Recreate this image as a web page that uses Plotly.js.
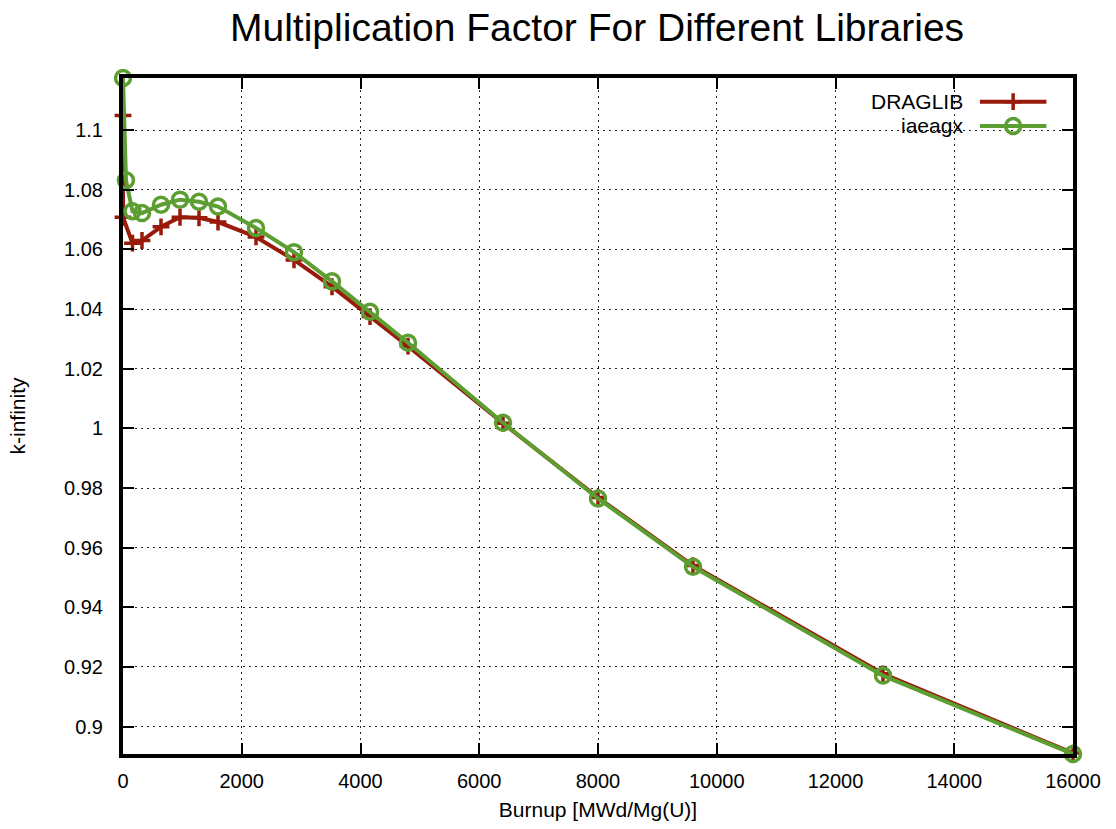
<!DOCTYPE html>
<html>
<head>
<meta charset="utf-8">
<script src="https://cdn.plot.ly/plotly-3.0.1.min.js"></script>
<style>
  html, body { margin: 0; padding: 0; background: #fff; }
  #chart { width: 1116px; height: 829px; }
</style>
</head>
<body>
<div id="chart"></div>
<script>
// Burnup steps [MWd/Mg(U)] and k-infinity for each cross-section library
const burnupDraglib = [0, 0, 160, 320, 640, 960, 1280, 1600, 2240, 2880, 3520, 4160, 4800, 6400, 8000, 9600, 12800, 16000];
const kinfDraglib   = [1.1049, 1.0708, 1.0621, 1.0630, 1.0676, 1.0708, 1.0706, 1.0692, 1.0642, 1.0565, 1.0475, 1.0375, 1.0276, 1.0017, 0.9768, 0.9540, 0.9177, 0.8911];

const burnupIaeagx  = [0, 50, 160, 320, 640, 960, 1280, 1600, 2240, 2880, 3520, 4160, 4800, 6400, 8000, 9600, 12800, 16000];
const kinfIaeagx    = [1.1175, 1.0832, 1.0728, 1.0722, 1.0750, 1.0767, 1.0760, 1.0744, 1.0672, 1.0591, 1.0493, 1.0391, 1.0287, 1.0019, 0.9765, 0.9536, 0.9171, 0.8908];

const seriesNames = ['DRAGLIB', 'iaeagx'];
const seriesColors = ['#991a0a', '#5c9e31'];

const xTickVals = [0, 2000, 4000, 6000, 8000, 10000, 12000, 14000, 16000];
const xTickText = ['0', '2000', '4000', '6000', '8000', '10000', '12000', '14000', '16000'];
const yTickVals = [0.9, 0.92, 0.94, 0.96, 0.98, 1.0, 1.02, 1.04, 1.06, 1.08, 1.1];
const yTickText = ['0.9', '0.92', '0.94', '0.96', '0.98', '1', '1.02', '1.04', '1.06', '1.08', '1.1'];

// Key sample positions (fractions of the plot box) for the legend drawn at top right
const keyLineX = [0.902, 0.972];
const keyRowY = [0.965, 0.929];

const FONT = 'Liberation Sans, Arial, Helvetica, sans-serif';

const markerStyles = [
  { symbol: 'cross-thin-open', size: 12, color: seriesColors[0], line: { color: seriesColors[0], width: 3.5 } },
  { symbol: 'circle-open', size: 15, color: seriesColors[1], line: { color: seriesColors[1], width: 3.5 } }
];

const traces = [
  {
    x: burnupDraglib, y: kinfDraglib, type: 'scatter', mode: 'lines+markers',
    name: seriesNames[0], line: { color: seriesColors[0], width: 4 },
    marker: markerStyles[0], cliponaxis: false, showlegend: false
  },
  {
    x: burnupIaeagx, y: kinfIaeagx, type: 'scatter', mode: 'lines+markers',
    name: seriesNames[1], line: { color: seriesColors[1], width: 4 },
    marker: markerStyles[1], cliponaxis: false, showlegend: false
  }
];

// Legend key samples: a line segment with the marker at its middle
seriesNames.forEach((name, i) => {
  traces.push({
    x: keyLineX, y: [keyRowY[i], keyRowY[i]], xaxis: 'x2', yaxis: 'y2',
    type: 'scatter', mode: 'lines', line: { color: seriesColors[i], width: 4 },
    showlegend: false, hoverinfo: 'skip'
  });
  traces.push({
    x: [(keyLineX[0] + keyLineX[1]) / 2], y: [keyRowY[i]], xaxis: 'x2', yaxis: 'y2',
    type: 'scatter', mode: 'markers', marker: markerStyles[i],
    showlegend: false, hoverinfo: 'skip'
  });
});

const axisCommon = {
  showline: true, linecolor: '#000', linewidth: 4, mirror: 'allticks',
  ticks: 'inside', ticklen: 11, tickwidth: 2, tickcolor: '#000',
  showgrid: true, gridcolor: '#222', gridwidth: 1, griddash: '2px,4px',
  zeroline: false, tickfont: { family: FONT, size: 20, color: '#000' }
};

const layout = {
  width: 1116, height: 829,
  margin: { l: 123, r: 43, t: 78, b: 75 },
  paper_bgcolor: '#fff', plot_bgcolor: '#fff',
  showlegend: false,
  title: {
    text: 'Multiplication Factor For Different Libraries',
    font: { family: FONT, size: 39, color: '#000' },
    x: 0.535, xanchor: 'center', y: 0.967, yanchor: 'middle'
  },
  xaxis: Object.assign({}, axisCommon, {
    range: [0, 16000], tickvals: xTickVals, ticktext: xTickText,
    ticklabelstandoff: 6,
    title: { text: 'Burnup [MWd/Mg(U)]', font: { family: FONT, size: 21, color: '#000' }, standoff: 12 }
  }),
  yaxis: Object.assign({}, axisCommon, {
    range: [0.8908, 1.1175], tickvals: yTickVals, ticktext: yTickText,
    ticklabelstandoff: 12,
    title: { text: 'k-infinity', font: { family: FONT, size: 21, color: '#000' }, standoff: 34 }
  }),
  xaxis2: { overlaying: 'x', range: [0, 1], visible: false, fixedrange: true },
  yaxis2: { overlaying: 'y', range: [0, 1], visible: false, fixedrange: true },
  annotations: seriesNames.map((name, i) => ({
    text: name, xref: 'paper', yref: 'paper',
    x: keyLineX[0] - 0.016, y: keyRowY[i], xanchor: 'right', yanchor: 'middle',
    showarrow: false, font: { family: FONT, size: 21, color: '#000' }
  }))
};

Plotly.newPlot('chart', traces, layout, { staticPlot: true, displayModeBar: false });
</script>
</body>
</html>
